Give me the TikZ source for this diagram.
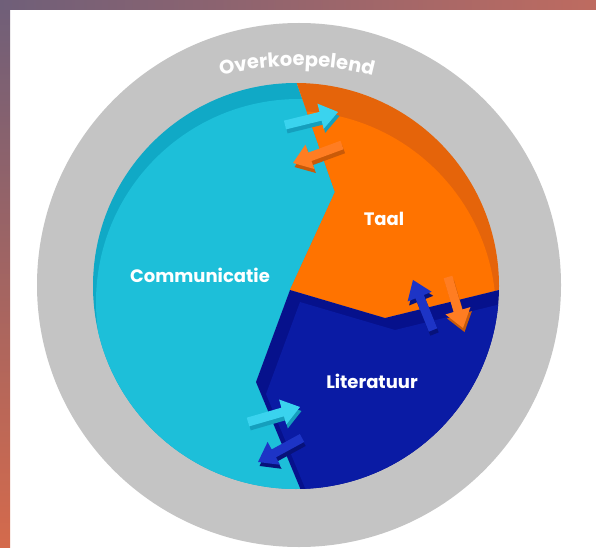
\documentclass[tikz,border=0pt]{standalone}
\usepackage{fontspec}
\setmainfont{Poppins}
\newfontfamily\arcfont[LetterSpace=10]{Poppins}
\usetikzlibrary{decorations.text}
\definecolor{fpurple}{HTML}{6F5F79}
\definecolor{fsalmon}{HTML}{BE6B60}
\definecolor{forange}{HTML}{D46A4C}
\definecolor{ring}{HTML}{C4C4C4}
\definecolor{cyanL}{HTML}{1DBFD9}
\definecolor{cyanD}{HTML}{10A9C6}
\definecolor{oraL}{HTML}{FF7300}
\definecolor{oraD}{HTML}{E5640A}
\definecolor{bluL}{HTML}{0A1BA4}
\definecolor{bluD}{HTML}{06118C}
\definecolor{arCyan}{HTML}{3AD3EE}
\definecolor{arCyanS}{HTML}{159FBD}
\definecolor{arOra}{HTML}{FF7D22}
\definecolor{arOraS}{HTML}{C95A08}
\definecolor{arBlu}{HTML}{1D34C6}
\definecolor{arBluS}{HTML}{07127A}
\tikzset{
  seglabel/.style={text=white, font=\bfseries\fontsize{18}{20}\selectfont, inner sep=0pt}
}
\newcommand\arrowpath[1]{(0,-4.5) -- ({#1-18},-4.5) -- ({#1-18},-13) -- (#1,0) -- ({#1-18},13) -- ({#1-18},4.5) -- (0,4.5) -- cycle}
\newcommand\flatarrow[5]{%
  \begin{scope}[shift={(1.5,4)}]\begin{scope}[shift={#3},rotate=#4]\fill[#2] \arrowpath{#5};\end{scope}\end{scope}
  \begin{scope}[shift={#3},rotate=#4]\fill[#1] \arrowpath{#5};\end{scope}}
\newcommand\cyanpoly{(293,40) -- (297,84) -- (335,192) -- (290,290) -- (256,382) -- (300,488) -- (305,540) -- (40,540) -- (40,40) -- cycle}
\newcommand\orapoly{(293,40) -- (297,84) -- (335,192) -- (290,290) -- (385,318) -- (499,290) -- (540,285) -- (540,40) -- cycle}
\newcommand\blupoly{(290,290) -- (385,318) -- (499,290) -- (540,285) -- (540,540) -- (305,540) -- (300,488) -- (256,382) -- cycle}
\begin{document}
\begin{tikzpicture}[x=1pt,y=1pt]
\useasboundingbox (0,0) rectangle (596,547);
\fill[white] (0,0) rectangle (596,547);
\shade[top color=fpurple, bottom color=forange] (0,0) rectangle (10,547);
\shade[left color=fpurple, right color=fsalmon] (0,537) rectangle (596,547);
\begin{scope}[yshift=547pt,yscale=-1]
  \fill[ring] (299,285) circle[radius=262];
  % cyan segment
  \begin{scope}
    \clip (296,286) circle[radius=203];
    \clip \cyanpoly;
    \fill[cyanD] (40,40) rectangle (560,540);
    \fill[cyanL] (299,302) circle[radius=203];
  \end{scope}
  % orange segment
  \begin{scope}
    \clip (296,286) circle[radius=203];
    \clip \orapoly;
    \fill[oraD] (40,40) rectangle (560,540);
    \fill[oraL] (293,314) circle[radius=203];
  \end{scope}
  % blue segment
  \begin{scope}
    \clip (296,286) circle[radius=203];
    \clip \blupoly;
    \fill[bluD] (40,40) rectangle (560,540);
    \begin{scope}[shift={(10,12)}]
      \clip \blupoly;
      \fill[bluL] (296,286) circle[radius=203];
    \end{scope}
  \end{scope}
  % arrows
  \flatarrow{arCyan}{arCyanS}{(285,125)}{-13.8}{54.6}
  \flatarrow{arOra}{arOraS}{(342,145)}{159.8}{52.2}
  \flatarrow{arBlu}{arBluS}{(433,330)}{-111.8}{53.9}
  \flatarrow{arOra}{arOraS}{(448,277)}{73.6}{53.2}
  \flatarrow{arCyan}{arCyanS}{(248,422)}{-16.1}{54.1}
  \flatarrow{arBlu}{arBluS}{(302,438)}{151.4}{50.1}
  % labels
  \node[seglabel] (comm) at (200,275) {Communicatie};
  \node[seglabel] (taal) at (384,219) {Taal};
  \node[seglabel] (lit) at (372,381) {Literatuur};
\end{scope}
\path[decorate, decoration={text along path, text align=center,
  text={|\color{white}\arcfont\bfseries\fontsize{19.5}{22}\selectfont|Overkoepelend}}]
  (297,181) ++(112:300) arc[start angle=112, end angle=68, radius=300];
\end{tikzpicture}
\end{document}
